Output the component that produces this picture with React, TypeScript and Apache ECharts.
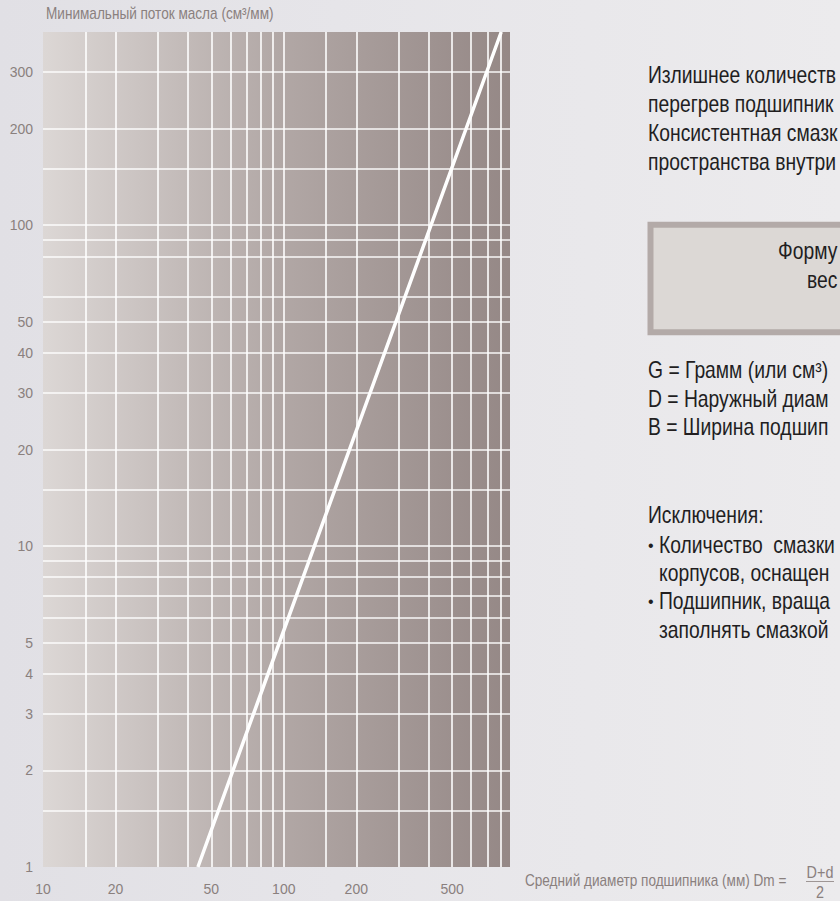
import React, { useEffect, useRef } from "react";
import * as echarts from "echarts";

// Grid lines (values on the log axes)
const xGridValues = [15, 20, 30, 40, 50, 60, 70, 80, 90, 100, 150, 200, 300, 400, 500, 600, 700, 800];
const yGridValues = [1.5, 2, 3, 4, 5, 6, 7, 8, 9, 10, 15, 20, 30, 40, 50, 60, 80, 90, 100, 150, 200, 300];
// Tick labels
const xTickLabels = [10, 20, 50, 100, 200, 500];
const yTickLabels = [1, 2, 3, 4, 5, 10, 20, 30, 40, 50, 100, 200, 300];
// Axis ranges
const xRange = [10, 870];
const yRange = [1, 400];
// Curve: mean bearing diameter (mm) vs minimal oil flow (cm3/mm)
const diameters = [44, 134, 800];
const oilFlow = [1, 10, 400];

// Texts (as visible in the cropped reference)
const yAxisTitle = "Минимальный поток масла (см³/мм)";
const xAxisTitle = "Средний диаметр подшипника (мм) Dm =";
const introLines = ["Излишнее количеств", "перегрев подшипник", "Консистентная смазк", "пространства внутри"];
const boxLines = ["Форму", "вес"];
const legendLines = ["G = Грамм (или см³)", "D = Наружный диам", "B = Ширина подшип"];
const exceptionTitle = "Исключения:";
const exceptionLines = ["Количество  смазки", "корпусов, оснащен", "Подшипник, враща", "заполнять смазкой"];

const FONT = "'Liberation Sans', Arial, Helvetica, sans-serif";
const LABEL = "#8a807e";
const DARK = "#221e1f";

export default function App() {
  const ref = useRef<HTMLDivElement>(null);
  useEffect(() => {
    document.body.style.margin = "0";
    if (!ref.current) return;
    const chart = echarts.init(ref.current, undefined, { renderer: "svg" });
    const textEl = (
      text: string,
      x: number,
      y: number,
      size: number,
      fill: string,
      sx: number,
      align = "left"
    ) => ({
      type: "text",
      x,
      y,
      scaleX: sx,
      silent: true,
      style: { text, x: 0, y: 0, font: `${size}px ${FONT}`, fill, align, verticalAlign: "middle" },
    });
    const BIG = 23;
    const SX = 0.84;
    const graphic: any[] = [];
    graphic.push(textEl(yAxisTitle, 46, 14, 16, LABEL, 0.85));
    graphic.push(textEl(xAxisTitle, 525, 881, 16, LABEL, 0.85));
    graphic.push(textEl("D+d", 820, 872, 16, LABEL, 0.9, "center"));
    graphic.push({
      type: "line",
      silent: true,
      shape: { x1: 806, y1: 881.5, x2: 834, y2: 881.5 },
      style: { stroke: LABEL, lineWidth: 0.8 },
    });
    graphic.push(textEl("2", 820, 892, 16, LABEL, 0.9, "center"));
    introLines.forEach((t, i) => graphic.push(textEl(t, 648, 75 + i * 29, BIG, DARK, SX)));
    graphic.push({
      type: "rect",
      silent: true,
      shape: { x: 650.5, y: 224.7, width: 300, height: 107.5 },
      style: { fill: "#dcd8d5", stroke: "#b3aaa8", lineWidth: 6 },
    });
    graphic.push(textEl(boxLines[0], 778, 251, BIG, DARK, SX));
    graphic.push(textEl(boxLines[1], 807, 280, BIG, DARK, SX));
    legendLines.forEach((t, i) => graphic.push(textEl(t, 648, 370 + i * 28.5, BIG, DARK, SX)));
    graphic.push(textEl(exceptionTitle, 648, 515, BIG, DARK, SX));
    graphic.push(textEl("•", 648, 545, 16, DARK, 1));
    graphic.push(textEl(exceptionLines[0], 659, 545, BIG, DARK, SX));
    graphic.push(textEl(exceptionLines[1], 659, 573, BIG, DARK, SX));
    graphic.push(textEl("•", 648, 601, 16, DARK, 1));
    graphic.push(textEl(exceptionLines[2], 659, 601, BIG, DARK, SX));
    graphic.push(textEl(exceptionLines[3], 659, 630, BIG, DARK, SX));

    const splitLine = { show: true, lineStyle: { color: "rgba(255,255,255,0.93)", width: 1.7 } };
    chart.setOption({
      animation: false,
      grid: {
        left: 43,
        top: 32,
        right: 330,
        bottom: 34,
        show: true,
        borderWidth: 0,
        backgroundColor: new echarts.graphic.LinearGradient(0, 0, 1, 0, [
          { offset: 0, color: "#dcd7d5" },
          { offset: 0.5, color: "#b2a8a6" },
          { offset: 1, color: "#958886" },
        ]),
      },
      xAxis: {
        type: "log",
        logBase: 10,
        min: xRange[0],
        max: xRange[1],
        axisLine: { show: false },
        axisTick: { show: false, customValues: xGridValues },
        splitLine,
        minorSplitLine: { show: false },
        axisLabel: { customValues: xTickLabels, color: LABEL, fontSize: 14, fontFamily: FONT, margin: 15 },
      },
      yAxis: {
        type: "log",
        logBase: 10,
        min: yRange[0],
        max: yRange[1],
        axisLine: { show: false },
        axisTick: { show: false, customValues: yGridValues },
        splitLine,
        minorSplitLine: { show: false },
        axisLabel: { customValues: yTickLabels, color: LABEL, fontSize: 14, fontFamily: FONT, margin: 10 },
      },
      series: [
        {
          type: "line",
          data: diameters.map((d, i) => [d, oilFlow[i]]),
          symbol: "none",
          silent: true,
          lineStyle: { color: "#ffffff", width: 3.5 },
        },
      ],
      graphic,
    });
    return () => chart.dispose();
  }, []);
  return (
    <div
      ref={ref}
      style={{ width: 840, height: 901, background: "linear-gradient(90deg, #e1e0e5 0%, #e6e5e9 40%, #ecebed 100%)" }}
    />
  );
}
